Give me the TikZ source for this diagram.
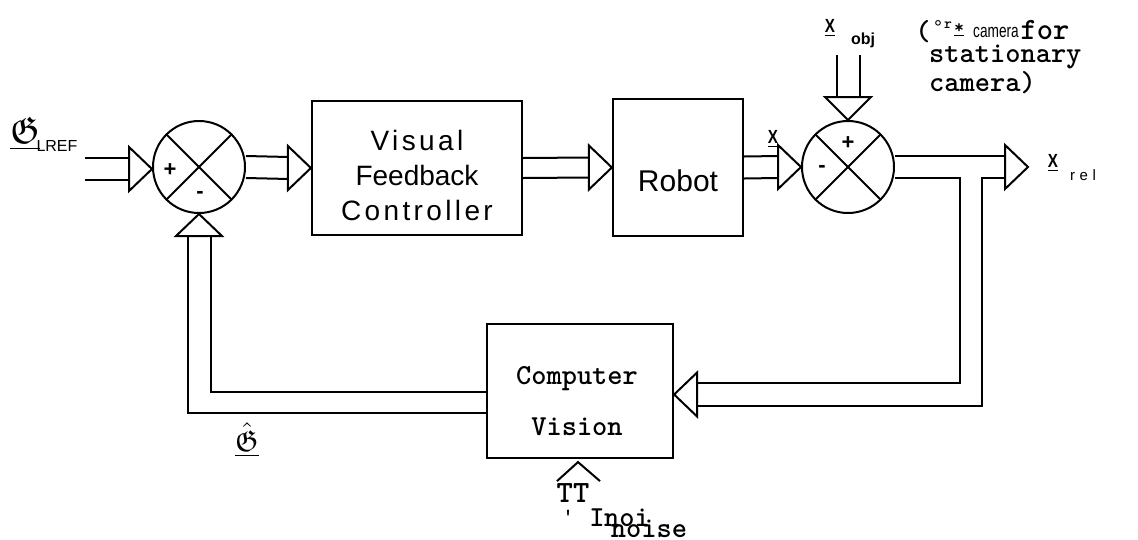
\documentclass[tikz,border=0pt]{standalone}
\usepackage{amssymb}
\usepackage{graphicx}
\usepackage{fontspec}
\setsansfont{Liberation Sans}
\setmonofont{Liberation Mono}
\newfontfamily\typefont{lmmonolt10-bold.otf}
\usetikzlibrary{calc}

\newcommand\sizept[1]{\fontsize{#1}{#1}\selectfont}
\newcommand\ulx{\underline{\scalebox{0.8}[1]{\bfseries X}}}
% open triangular heads; the argument is the tip
\newcommand\tipright[1]{\draw[head] (#1) -- ++(-23,-22) -- ++(0,44) -- cycle;}
\newcommand\tipleft[1]{\draw[head] (#1) -- ++(23,-22) -- ++(0,44) -- cycle;}
\newcommand\tipdown[1]{\draw[head] (#1) -- ++(-23,-23) -- ++(46,0) -- cycle;}
\newcommand\tipup[1]{\draw[head] (#1) -- ++(-23,22) -- ++(46,0) -- cycle;}

\tikzset{
  wire/.style={line width=2pt},
  block/.style={draw, line width=2.2pt, rectangle, inner sep=0pt},
  sumj/.style={draw, circle, line width=2pt, minimum size=92pt, inner sep=0pt},
  head/.style={draw, line width=2pt, fill=white, line join=miter},
  lbl/.style={inner sep=0pt},
  sign/.style={lbl, font=\sffamily\bfseries\sizept{22}},
  mono/.style={lbl, font=\typefont\sizept{29}},
  xlbl/.style={lbl, font=\sffamily\sizept{19}},
}

\begin{document}
\begin{tikzpicture}[x=1pt,y=-1pt]
\path[use as bounding box, fill=white] (0,0) rectangle (1138,539);

% ---- blocks and summing junctions
\node[sumj] (s1) at (199,167) {};
\draw[wire] (s1.north west) -- (s1.south east) (s1.north east) -- (s1.south west);
\node[sign] (s1p) at (170,170) {+};
\node[sign] (s1m) at (200,195) {-};

\node[block, minimum width=210pt, minimum height=134pt] (vfc) at (417,168) {};
\node[lbl, align=center, font=\sffamily\fontsize{28}{35}\selectfont] (vfct) at (417,175)
  {{\addfontfeature{LetterSpace=12}Visual}\\Feedback\\{\addfontfeature{LetterSpace=12}Controller}};

\node[block, minimum width=130pt, minimum height=137pt] (robot) at (678,167.5) {};
\node[lbl, font=\sffamily\sizept{30}] (robott) at (678,181) {Robot};

\node[sumj] (s2) at (848,167) {};
\draw[wire] (s2.north west) -- (s2.south east) (s2.north east) -- (s2.south west);
\node[sign] (s2p) at (848,143) {+};
\node[sign] (s2m) at (822,169) {-};

\node[block, minimum width=186pt, minimum height=134pt] (cv) at (580,391) {};
\node[lbl, align=center, font=\typefont\fontsize{29}{51}\selectfont] (cvt) at (577,401) {Computer\\Vision};

% ---- connectors (double lines with open heads)
\coordinate (refin) at (85,169);
\draw[wire] ($(refin)+(0,-11)$) -- ($(s1.west)+(-23,-9)$)
            ($(refin)+(0,11)$) -- ($(s1.west)+(-23,13)$);
\draw[head] ($(s1.west)+(0,2)$) -- ++(-23,-22) -- ++(0,44) -- cycle;

\draw[wire] ($(s1.east)+(0,-11)$) -- ($(vfc.west)+(-22,-11)$)
            ($(s1.east)+(0,11)$) -- ($(vfc.west)+(-22,11)$);
\tipright{vfc.west}

\draw[wire] ($(vfc.east)+(0,-10)$) -- ($(robot.west)+(-22,-10)$)
            ($(vfc.east)+(0,10)$) -- ($(robot.west)+(-22,10)$);
\tipright{robot.west}

\draw[wire] ($(robot.east)+(0,-11)$) -- ($(s2.west)+(-23,-11)$)
            ($(robot.east)+(0,11)$) -- ($(s2.west)+(-23,11)$);
\tipright{s2.west}

\coordinate (objin) at (848.5,55);
\draw[wire] ($(objin)+(-11.5,0)$) -- ($(s2.north)+(-11,-23)$)
            ($(objin)+(11.5,0)$) -- ($(s2.north)+(12,-23)$);
\tipdown{s2.north}

\coordinate (relout) at (1028,167);
\draw[wire] ($(s2.east)+(0,-11)$) -- ($(relout)+(-23,-11)$);
\tipright{relout}

% return path to the vision block
\coordinate (cvin) at ($(cv.east)+(0,3.5)$);
\coordinate (bendA) at (960,178);
\coordinate (bendB) at (960,383);
\coordinate (bendC) at (982,178);
\coordinate (bendD) at (982,406);
\draw[wire] ($(s2.east)+(0,11)$) -- (bendA) -- (bendB) -- ($(cvin)+(23,-11.5)$);
\draw[wire] ($(relout)+(-23,11)$) -- (bendC) -- (bendD) -- ($(cvin)+(23,11.5)$);
\tipleft{cvin}

% estimate fed back to the first junction
\coordinate (bendE) at (210.5,392);
\coordinate (bendF) at (187.5,413);
\draw[wire] ($(cv.west)+(0,1)$) -- (bendE) -- ($(s1.south)+(11.5,22)$);
\draw[wire] ($(cv.west)+(0,22)$) -- (bendF) -- ($(s1.south)+(-11.5,22)$);
\tipup{s1.south}

% noise input
\draw[wire] ($(cv.south)+(-23,22)$) -- ($(cv.south)+(-2,3)$) -- ($(cv.south)+(20,22)$);

% ---- labels
\node[lbl] (gref) at (25,134) {\scalebox{3.8}{$\underline{\mathfrak{G}}$}};
\node[lbl, font=\sffamily\sizept{16}] (greft) at (57,146) {LREF};

\node[xlbl] (xrob) at (773,139) {\ulx};

\node[xlbl] (xobj) at (830,28) {\ulx};
\node[lbl, font=\sffamily\bfseries\sizept{16}] (xobjt) at (863,40) {obj};

\node[mono] (n1) at (923,32) {(};
\node[lbl, font=\sffamily\sizept{20}] (n2) at (938,28) {°};
\node[lbl, font=\typefont\sizept{15}] (n3) at (948,25) {r};
\node[lbl, font=\typefont\sizept{19}] (n4) at (959,30) {\underline{*}};
\node[lbl, font=\sffamily\sizept{19}] (n5) at (996,32) {\scalebox{0.72}[1]{camera}};
\node[lbl, font=\typefont\sizept{31}] (n6) at (1045,30) {for};
\node[mono, anchor=west] (n7) at (929,57) {stationary};
\node[mono, anchor=west] (n8) at (929,83) {camera)};

\node[xlbl] (xrel) at (1053,163) {\ulx};
\node[lbl, font=\sffamily\sizept{15}\addfontfeature{LetterSpace=30}] (xrelt) at (1083,175) {rel};

\node[lbl] (ghat) at (247,440) {\scalebox{3}{$\underline{\hat{\mathfrak{G}}}$}};

\node[lbl, font=\typefont\sizept{31}] (tt) at (573,493) {TT};
\node[lbl, font=\typefont\sizept{20}] (q1) at (568,516) {'};
\node[mono] (q2) at (597,518) {I};
\node[mono] (q3) at (627,518) {noi};
\node[mono] (q4) at (649,529) {noise};
\end{tikzpicture}
\end{document}
